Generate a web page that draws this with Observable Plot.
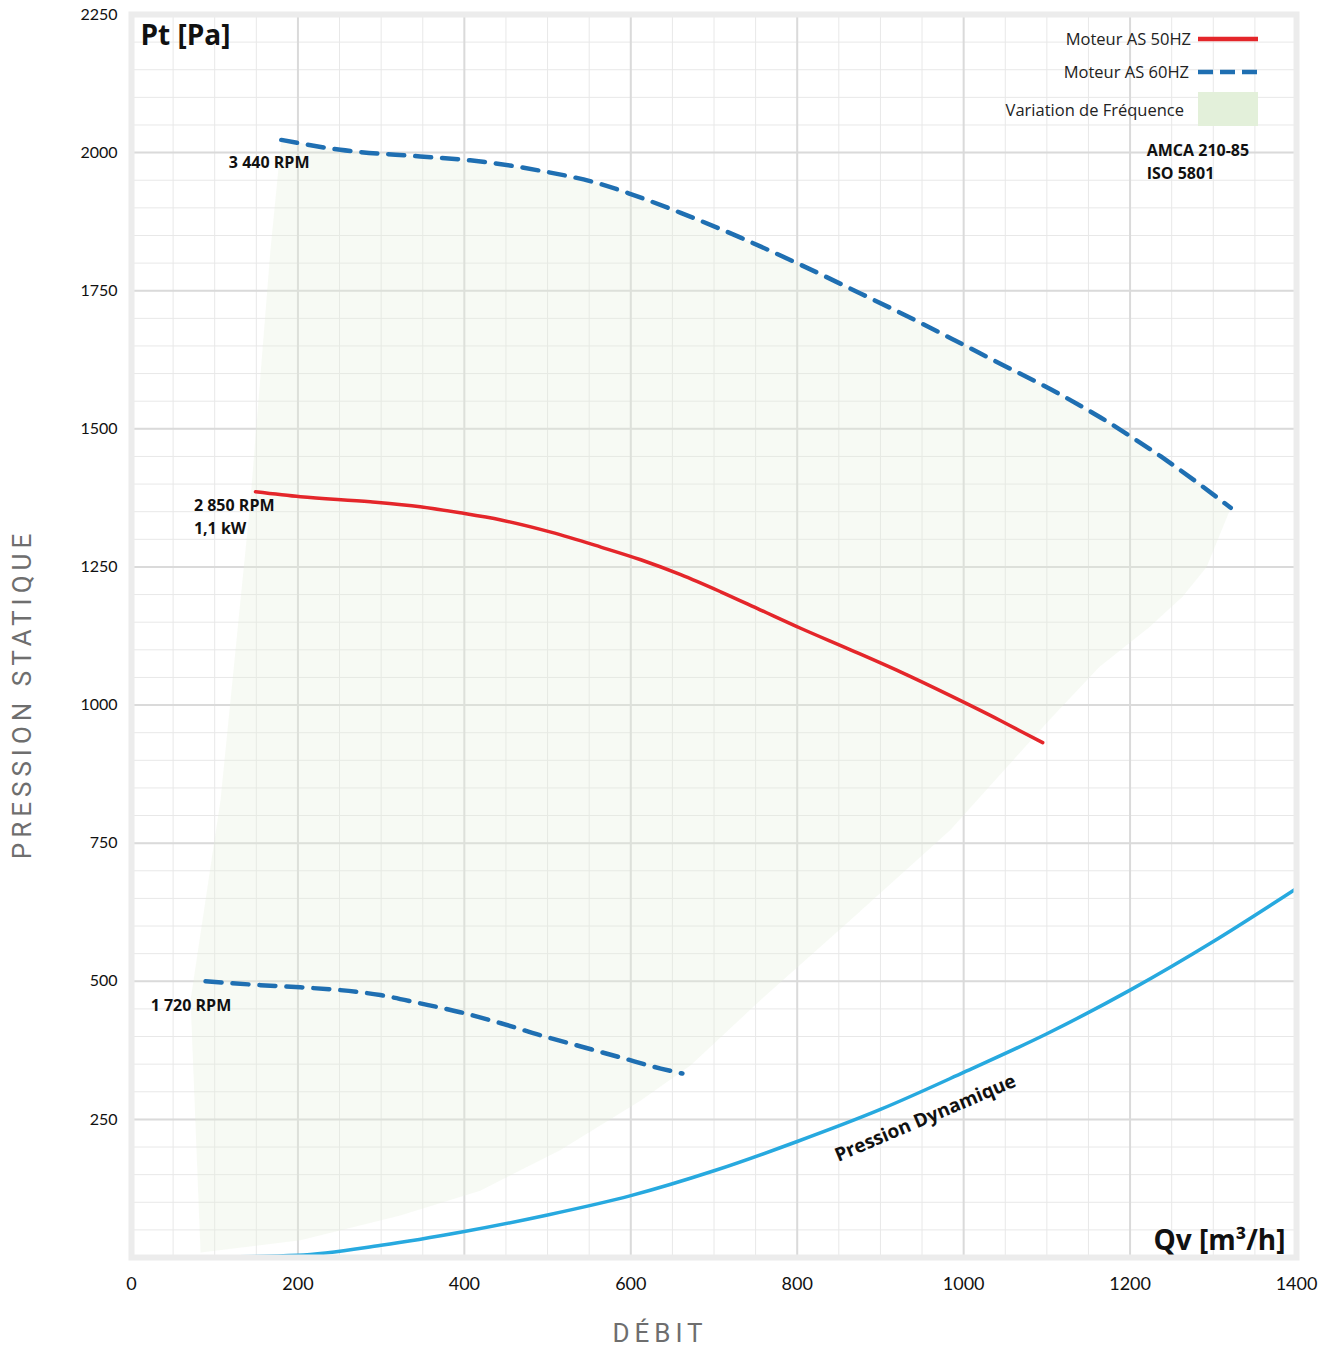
<!DOCTYPE html>
<html>
<head>
<meta charset="utf-8">
<script src="https://cdn.jsdelivr.net/npm/d3@7"></script>
<script src="https://cdn.jsdelivr.net/npm/@observablehq/plot@0.6"></script>
<style>
  html, body { margin: 0; padding: 0; background: #fff; }
  #wrap { position: relative; width: 1333px; height: 1349px; }
  #chart svg { font-family: Lato, "Open Sans", sans-serif; }
  g[aria-label="x-axis tick label"] text { font-size: 18px; fill: #111; }
  g[aria-label="y-axis tick label"] text { font-size: 16px; fill: #111; }
  .axis-title text { letter-spacing: 5px; }
  .legend { position: absolute; font-family: "Open Sans", sans-serif; font-size: 16.5px; color: #222; }
  .legend .row { position: absolute; right: 0; display: flex; align-items: center; white-space: nowrap; }
</style>
</head>
<body>
<div id="wrap">
  <div id="chart"></div>
</div>
<script>
// ---- data ----
const rpm3440X = [180, 251, 347, 407, 492, 564, 600, 660, 732, 804, 876, 948, 1000, 1044, 1104, 1165, 1201, 1237, 1285, 1321];
const rpm3440Y = [2023, 2005, 1993, 1986, 1967, 1943, 1925, 1891, 1846, 1797, 1745, 1692, 1652, 1618, 1572, 1520, 1486, 1450, 1398, 1357];

const rpm2850X = [149, 203, 287, 347, 395, 444, 504, 564, 612, 660, 708, 756, 804, 864, 924, 984, 1044, 1068, 1095];
const rpm2850Y = [1386, 1377, 1368, 1359, 1348, 1335, 1313, 1286, 1263, 1236, 1205, 1172, 1139, 1100, 1060, 1017, 972, 953, 932];

const rpm1720X = [89, 155, 203, 251, 299, 347, 395, 444, 492, 540, 588, 636, 662];
const rpm1720Y = [500, 493, 489, 484, 475, 460, 444, 424, 402, 382, 362, 342, 333];

const dynX = [60, 200, 300, 400, 500, 600, 700, 800, 900, 1000, 1100, 1200, 1300, 1400];
const dynY = [0, 4, 22, 47, 77, 112, 157, 210, 268, 335, 405, 484, 572, 668];

const regionX = [180, 251, 347, 407, 492, 564, 600, 660, 732, 804, 876, 948, 1000, 1044, 1104, 1165, 1201, 1237, 1285, 1321,
                 1292, 1263, 1223, 1163, 1103, 984, 864, 756, 672, 612, 515, 419, 323, 203, 83, 71, 107, 143, 167];
const regionY = [2023, 2005, 1993, 1986, 1967, 1943, 1925, 1891, 1846, 1797, 1745, 1692, 1652, 1618, 1572, 1520, 1486, 1450, 1398, 1357,
                 1250, 1196, 1141, 1069, 973, 774, 611, 466, 348, 284, 194, 121, 76, 31, 9, 466, 828, 1371, 1824];

const xTickValues = [0, 200, 400, 600, 800, 1000, 1200, 1400];
const yTickValues = [250, 500, 750, 1000, 1250, 1500, 1750, 2000, 2250];

const labelTexts = ["3 440 RPM", "2 850 RPM", "1,1 kW", "1 720 RPM", "AMCA 210-85", "ISO 5801"];
const labelX = [117, 75, 75, 23, 1220, 1220];
const labelY = [1981, 1360, 1319, 455, 2003, 1962];

const legendLabels = ["Moteur AS 50HZ", "Moteur AS 60HZ", "Variation de Fréquence"];

// ---- build ----
const pts = (xs, ys) => xs.map((x, i) => ({x, y: ys[i]}));
const curve3440 = pts(rpm3440X, rpm3440Y);
const curve2850 = pts(rpm2850X, rpm2850Y);
const curve1720 = pts(rpm1720X, rpm1720Y);
const curveDyn = pts(dynX, dynY);
const region = pts(regionX, regionY);
const labels = labelTexts.map((t, i) => ({t, x: labelX[i], y: labelY[i]}));

const RED = "#e4262a", BLUE = "#1f6fb2", CYAN = "#27a9df", GREEN = "#e3f0da";
const axisTitle = {fill: "#6e6e6e", fontSize: 26, fontFamily: "Roboto, sans-serif", textAnchor: "middle", className: "axis-title"};

const chart = Plot.plot({
  width: 1333,
  height: 1349,
  marginLeft: 131,
  marginRight: 37,
  marginTop: 14,
  marginBottom: 92,
  x: {domain: [0, 1400], ticks: xTickValues, tickSize: 0, tickPadding: 20, tickFormat: d => String(d), label: null},
  y: {domain: [0, 2250], ticks: yTickValues, tickSize: 0, tickPadding: 14, tickFormat: d => String(d), label: null},
  marks: [
    Plot.gridX(d3.range(0, 1401, 50), {stroke: "#e8e8e8", strokeOpacity: 1, strokeWidth: 1}),
    Plot.gridY(d3.range(0, 2251, 50), {stroke: "#e8e8e8", strokeOpacity: 1, strokeWidth: 1}),
    Plot.gridX(xTickValues, {stroke: "#dadada", strokeOpacity: 1, strokeWidth: 2}),
    Plot.gridY(yTickValues, {stroke: "#dadada", strokeOpacity: 1, strokeWidth: 2}),
    Plot.line(region, {x: "x", y: "y", fill: GREEN, fillOpacity: 0.3, stroke: "none", curve: "linear-closed"}),
    Plot.line(curveDyn, {x: "x", y: "y", stroke: CYAN, strokeWidth: 3.5, curve: "monotone-x"}),
    Plot.line(curve3440, {x: "x", y: "y", stroke: BLUE, strokeWidth: 4.5, strokeDasharray: "16,11", curve: "monotone-x"}),
    Plot.line(curve1720, {x: "x", y: "y", stroke: BLUE, strokeWidth: 4.5, strokeDasharray: "16,11", curve: "monotone-x"}),
    Plot.line(curve2850, {x: "x", y: "y", stroke: RED, strokeWidth: 3.5, curve: "monotone-x"}),
    Plot.frame({stroke: "#ececec", strokeWidth: 6}),
    Plot.text(labels, {x: "x", y: "y", text: "t", textAnchor: "start", fontSize: 16, fontWeight: "bold", fill: "#111", fontFamily: "Open Sans"}),
    Plot.text(["Pression Dynamique"], {x: [954], y: [252], text: d => d, rotate: -23, fontSize: 19, fontWeight: "bold", fill: "#111", fontFamily: "Open Sans"}),
    Plot.text(["Pt [Pa]"], {frameAnchor: "top-left", dx: 9, dy: 11, text: d => d, textAnchor: "start", fontSize: 28, fontWeight: "bold", fill: "#111", fontFamily: "Open Sans"}),
    Plot.text(["Qv [m³/h]"], {frameAnchor: "bottom-right", dx: -11, dy: -8, text: d => d, textAnchor: "end", fontSize: 28, fontWeight: "bold", fill: "#111", fontFamily: "Open Sans"}),
    Plot.text(["DÉBIT"], {frameAnchor: "bottom", dx: -54, dy: 84, text: d => d, ...axisTitle}),
    Plot.text(["PRESSION STATIQUE"], {frameAnchor: "left", dx: -109, dy: 58, rotate: -90, text: d => d, ...axisTitle})
  ]
});
document.getElementById("chart").append(chart);

// ---- legend overlay ----
const wrap = document.getElementById("wrap");
const legend = document.createElement("div");
legend.className = "legend";
legend.style.left = "0px"; legend.style.top = "0px"; legend.style.width = "1258px"; legend.style.height = "140px";
const swatches = [
  `<svg width="60" height="8"><line x1="0" y1="4" x2="60" y2="4" stroke="${RED}" stroke-width="4.5"/></svg>`,
  `<svg width="60" height="8"><line x1="0" y1="4" x2="60" y2="4" stroke="${BLUE}" stroke-width="4.5" stroke-dasharray="15,7"/></svg>`,
  `<svg width="60" height="34"><rect x="0" y="0" width="60" height="34" fill="${GREEN}"/></svg>`
];
const tops = [27, 60, 92];
const gaps = [7, 9, 14];
legendLabels.forEach((t, i) => {
  const row = document.createElement("div");
  row.className = "row";
  row.style.top = tops[i] + "px";
  row.innerHTML = `<span style="margin-right:${gaps[i]}px">${t}</span>${swatches[i]}`;
  legend.append(row);
});
wrap.append(legend);
</script>
</body>
</html>
